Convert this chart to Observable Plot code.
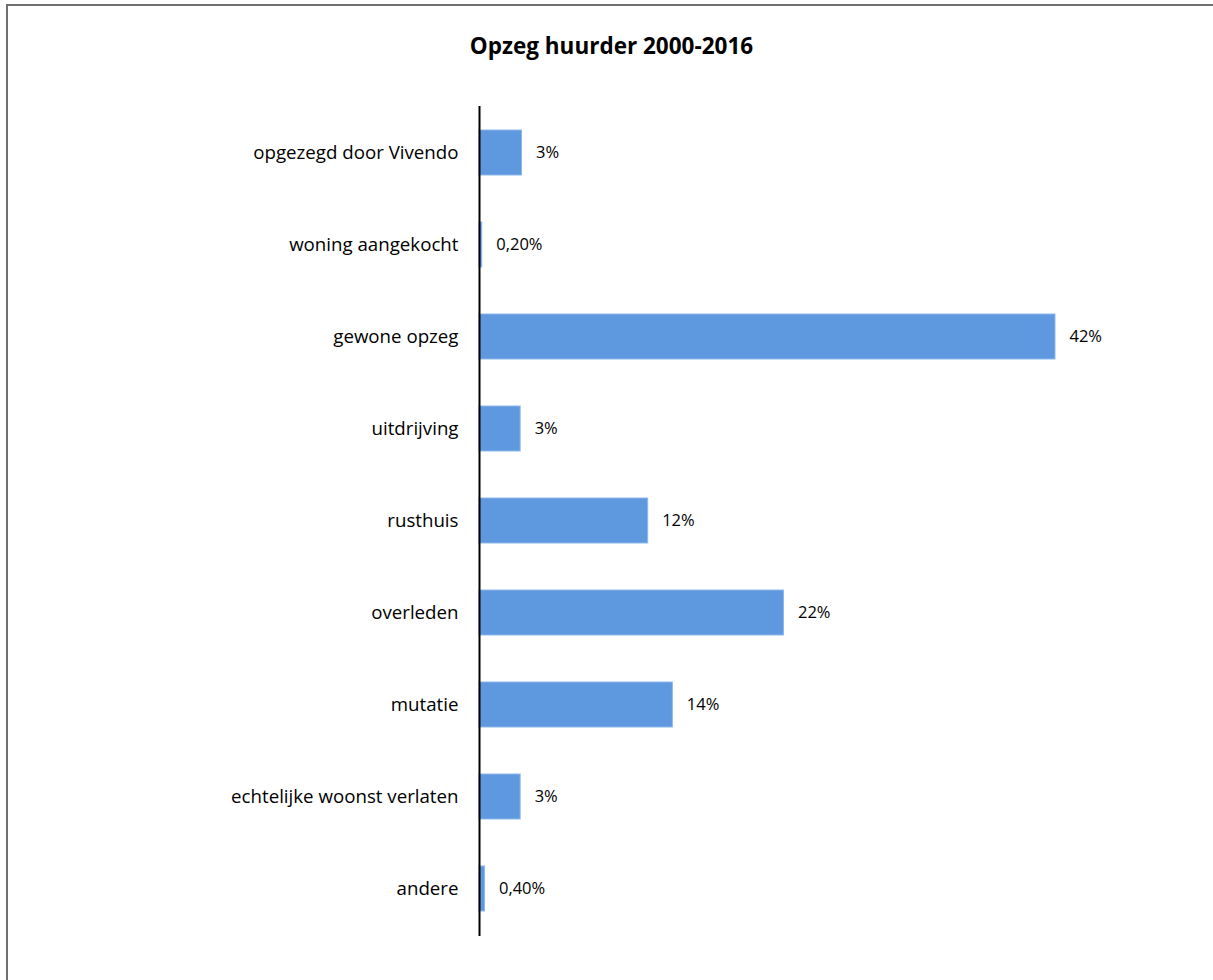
<!DOCTYPE html>
<html>
<head>
<meta charset="utf-8">
<script src="https://cdn.jsdelivr.net/npm/d3@7"></script>
<script src="https://cdn.jsdelivr.net/npm/@observablehq/plot@0.6"></script>
<style>
  html, body { margin: 0; padding: 0; background: #fff; }
  #wrap { position: relative; width: 1213px; height: 980px; overflow: hidden; }
  #frame { position: absolute; left: 6px; top: 4px; width: 1260px; height: 1020px; border: 2px solid #707070; box-sizing: border-box; }
  #title { position: absolute; left: 0; width: 1223px; top: 31px; text-align: center; font-family: "Open Sans", Lato, sans-serif; font-weight: bold; font-size: 22.5px; line-height: 30px; color: #000; }
  #chart { position: absolute; left: 0; top: 0; }
</style>
</head>
<body>
<div id="wrap">
  <div id="frame"></div>
  <div id="chart"></div>
  <div id="title">Opzeg huurder 2000-2016</div>
</div>
<script>
const categories = [
  "opgezegd door Vivendo",
  "woning aangekocht",
  "gewone opzeg",
  "uitdrijving",
  "rusthuis",
  "overleden",
  "mutatie",
  "echtelijke woonst verlaten",
  "andere"
];
const values = [3.1, 0.2, 42.0, 3.0, 12.3, 22.2, 14.1, 3.0, 0.4];
const valueLabels = ["3%", "0,20%", "42%", "3%", "12%", "22%", "14%", "3%", "0,40%"];

const data = categories.map((c, i) => ({category: c, value: values[i], label: valueLabels[i]}));

const chart = Plot.plot({
  width: 1213,
  height: 980,
  marginTop: 106,
  marginBottom: 44,
  marginLeft: 479,
  marginRight: 158,
  style: {fontFamily: "'Open Sans', Lato, sans-serif", background: "transparent"},
  x: {domain: [0, 42], axis: null},
  y: {domain: categories, paddingInner: 0.51, paddingOuter: 0.255, axis: null},
  marks: [
    Plot.barX(data, {y: "category", x: "value", fill: "#5E99E0", stroke: "#8DB8EC", strokeWidth: 1}),
    Plot.axisY({tickSize: 0, tickPadding: 21, fontSize: 18.7, fill: "#000", label: null}),
    Plot.ruleX([0], {stroke: "#000", strokeWidth: 2}),
    Plot.text(data, {y: "category", x: "value", text: "label", dx: 14, textAnchor: "start", fontSize: 16.5, fill: "#000"})
  ]
});
document.getElementById("chart").appendChild(chart);
</script>
</body>
</html>
